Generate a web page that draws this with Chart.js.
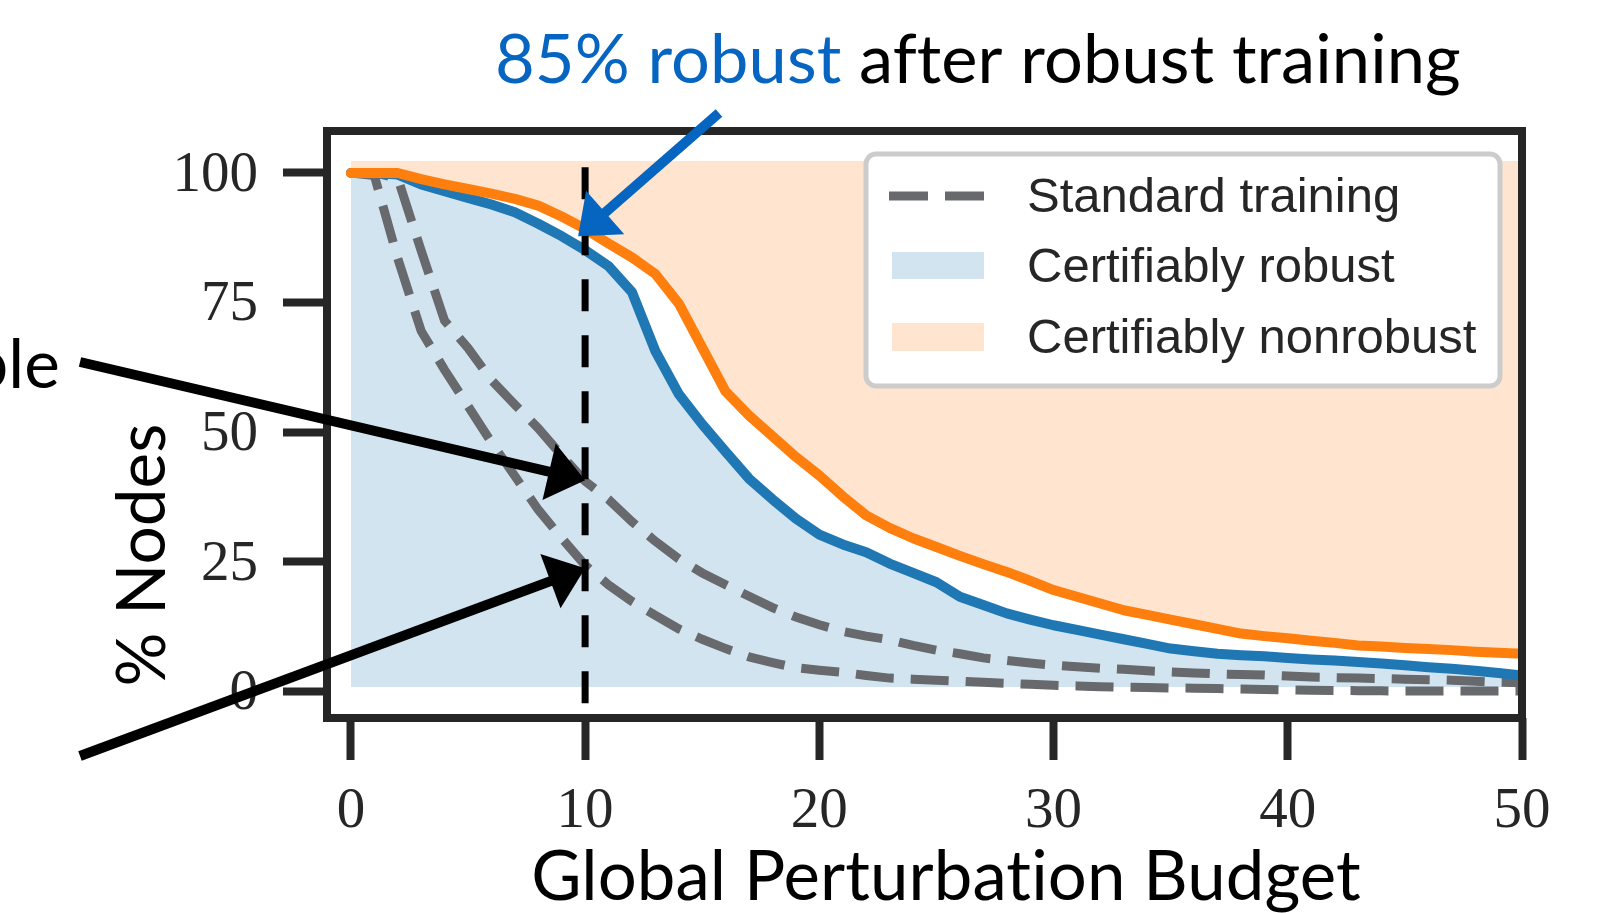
<!DOCTYPE html>
<html>
<head>
<meta charset="utf-8">
<script src="https://cdn.jsdelivr.net/npm/chart.js@4.4.1/dist/chart.umd.min.js"></script>
<style>
  html, body { margin: 0; padding: 0; background: #fff; }
  #wrap { width: 1618px; height: 913px; }
</style>
</head>
<body>
<div id="wrap"><canvas id="chart" width="1618" height="913"></canvas></div>
<script>
// ─── DATA ────────────────────────────────────────────────────────
const budget = [0,1,2,3,4,5,6,7,8,9,10,11,12,13,14,15,16,17,18,19,20,21,22,23,24,25,
                26,27,28,29,30,31,32,33,34,35,36,37,38,39,40,41,42,43,44,45,46,47,48,49,50];

// robust training: % certifiably robust (blue) and 100 - % certifiably nonrobust (orange)
const certRobust = [100,100,99.7,97.8,96.5,95.2,93.9,92.4,90.2,87.8,85.1,82.0,77.0,65.6,57.3,51.5,46.2,41.0,37.0,33.3,
                    30.2,28.3,26.8,24.6,22.8,21.0,18.2,16.6,15.0,13.8,12.7,11.8,10.9,10.0,9.1,8.2,7.7,7.2,6.9,6.7,
                    6.4,6.1,5.9,5.6,5.3,5.0,4.6,4.3,3.9,3.5,3.0];
const notCertNonrobust = [100,100,100,98.8,97.8,96.9,96.0,95.0,93.7,91.6,89.2,86.4,83.7,80.5,74.8,66.3,57.8,53.2,49.2,45.2,
                          41.6,37.6,33.9,31.5,29.5,27.8,26.1,24.5,23.0,21.3,19.5,18.2,16.9,15.6,14.7,13.8,12.9,12.0,11.1,10.6,
                          10.2,9.7,9.3,8.8,8.6,8.3,8.1,7.9,7.6,7.4,7.2];

// standard training (dashed)
const stdNotNonrobust = [100,100,99,85,71.5,66.2,60,55.3,50.7,45.5,40.5,37.0,32.7,28.9,25.5,22.8,20.5,18.3,16.1,14.3,
                         12.8,11.5,10.6,9.9,8.8,7.9,7.2,6.4,5.9,5.4,5.0,4.7,4.4,4.2,3.9,3.7,3.5,3.3,3.2,3.1,
                         2.9,2.7,2.6,2.5,2.4,2.3,2.2,2.1,1.9,1.7,1.6];
const stdRobust = [100,99.5,83.5,69.5,62,55,48,41.5,35,29.5,24.3,20.5,17.3,14.6,12.0,10.0,8.2,6.6,5.5,4.5,
                   4.0,3.6,3.0,2.5,2.3,2.1,1.9,1.7,1.5,1.3,1.1,1.0,0.85,0.75,0.68,0.6,0.55,0.48,0.4,0.3,
                   0.22,0.16,0.12,0.08,0.04,0,0,0,0,0,0];

const markedBudget = [10, 10];
const markedSpan   = [101.1, -2.4];

const xTicks = [0, 10, 20, 30, 40, 50];
const yTicks = [0, 25, 50, 75, 100];
const legendLabels = ['Standard training', 'Certifiably robust', 'Certifiably nonrobust'];

// arrow tips in data units [budget, %]
const tipRobust  = [9.7, 87.8];
const tipStdHigh = [10.0, 40.7];
const tipStdLow  = [10.0, 23.7];

// ─── STYLE ───────────────────────────────────────────────────────
const INK    = '#262626';
const BLUE   = '#1f77b4';
const ORANGE = '#ff7f0e';
const GREY   = '#67696c';
const NOTE_BLUE = '#0565c0';
const SANS   = '"Lato", "Open Sans", sans-serif';

const pts = ys => budget.map((x, i) => ({ x, y: ys[i] }));

function fitSize(ctx, text, family, width) {
  ctx.font = '100px ' + family;
  return 100 * width / ctx.measureText(text).width;
}

function arrow(ctx, x1, y1, x2, y2, color, w, hl, hw) {
  const dx = x2 - x1, dy = y2 - y1, len = Math.hypot(dx, dy);
  const ux = dx / len, uy = dy / len;
  const bx = x2 - ux * hl, by = y2 - uy * hl;
  ctx.save();
  ctx.strokeStyle = color; ctx.fillStyle = color; ctx.lineWidth = w; ctx.lineCap = 'butt';
  ctx.beginPath(); ctx.moveTo(x1, y1); ctx.lineTo(bx + ux * 3, by + uy * 3); ctx.stroke();
  ctx.beginPath();
  ctx.moveTo(x2, y2);
  ctx.lineTo(bx - uy * hw, by + ux * hw);
  ctx.lineTo(bx + uy * hw, by - ux * hw);
  ctx.closePath(); ctx.fill();
  ctx.restore();
}

// ─── FRAME + LEGEND (inside plot) ────────────────────────────────
const frameLegend = {
  id: 'frameLegend',
  afterDatasetsDraw(chart) {
    const { ctx, chartArea: a } = chart;
    ctx.save();
    ctx.strokeStyle = INK; ctx.lineWidth = 8; ctx.setLineDash([]);
    ctx.strokeRect(a.left, a.top, a.right - a.left, a.bottom - a.top);

    // legend box
    const bx = 866, by = 154, bw = 634, bh = 232;
    ctx.beginPath();
    ctx.roundRect(bx, by, bw, bh, 10);
    ctx.fillStyle = '#fff'; ctx.fill();
    ctx.strokeStyle = '#cccccc'; ctx.lineWidth = 5; ctx.stroke();

    const rows = [196, 266, 337];
    // dashed handle
    ctx.strokeStyle = GREY; ctx.lineWidth = 9; ctx.setLineDash([39, 17]);
    ctx.beginPath(); ctx.moveTo(889, rows[0]); ctx.lineTo(984, rows[0]); ctx.stroke();
    ctx.setLineDash([]);
    ctx.fillStyle = 'rgba(31,119,180,0.2)';  ctx.fillRect(892, rows[1] - 14, 92, 27);
    ctx.fillStyle = 'rgba(255,127,14,0.2)';  ctx.fillRect(892, rows[2] - 14, 92, 28);

    ctx.fillStyle = INK;
    ctx.font = '49px "Liberation Sans", Arial, sans-serif';
    ctx.textBaseline = 'alphabetic'; ctx.textAlign = 'left';
    legendLabels.forEach((t, i) => ctx.fillText(t, 1027, rows[i] + 16));
    ctx.restore();
  }
};

// ─── ANNOTATIONS ─────────────────────────────────────────────────
const notes = {
  id: 'notes',
  afterDraw(chart) {
    const { ctx } = chart;
    const sx = chart.scales.x, sy = chart.scales.y;
    const px = p => [sx.getPixelForValue(p[0]), sy.getPixelForValue(p[1])];
    ctx.save();
    // keep Lato from forming the "ti" ligature
    ctx.textRendering = 'optimizeSpeed';
    ctx.letterSpacing = '0.1px';

    // title
    const head = '85% robust', tail = ' after robust training';
    const ts = fitSize(ctx, head + tail, SANS, 965);
    ctx.font = ts + 'px ' + SANS;
    ctx.textBaseline = 'alphabetic'; ctx.textAlign = 'left';
    ctx.fillStyle = NOTE_BLUE; ctx.fillText(head, 495, 83);
    const hw = ctx.measureText(head).width;
    ctx.fillStyle = '#000'; ctx.fillText(tail, 495 + hw, 83);

    // x label
    const xl = 'Global Perturbation Budget';
    ctx.font = fitSize(ctx, xl, SANS, 829) + 'px ' + SANS;
    ctx.textAlign = 'center';
    ctx.fillText(xl, 946, 900);

    // y label
    const yl = '% Nodes';
    const ys = fitSize(ctx, yl, SANS, 263);
    ctx.save();
    ctx.translate(165, 555); ctx.rotate(-Math.PI / 2);
    ctx.font = ys + 'px ' + SANS;
    ctx.fillText(yl, 0, 0);
    ctx.restore();

    // clipped word at left edge
    ctx.font = ys + 'px ' + SANS;
    ctx.textAlign = 'right';
    ctx.fillText('ple', 60, 388);

    // arrows
    const t1 = px(tipStdHigh), t2 = px(tipStdLow), t3 = px(tipRobust);
    arrow(ctx, 80, 362, t1[0], t1[1], '#000', 10, 37, 29);
    arrow(ctx, 80, 756, t2[0], t2[1], '#000', 10, 37, 29);
    arrow(ctx, 719, 113, t3[0], t3[1], NOTE_BLUE, 10, 36, 29);
    ctx.restore();
  }
};

// ─── CHART ───────────────────────────────────────────────────────
const tickFont = { family: '"Liberation Serif", "DejaVu Serif", serif', size: 57 };

new Chart(document.getElementById('chart'), {
  type: 'line',
  data: {
    datasets: [
      { label: 'std-upper', data: pts(stdNotNonrobust), borderColor: GREY, borderWidth: 9,
        borderDash: [38, 17], borderCapStyle: 'butt', fill: false, order: 5 },
      { label: 'std-lower', data: pts(stdRobust), borderColor: GREY, borderWidth: 9,
        borderDash: [38, 17], borderCapStyle: 'butt', fill: false, order: 5 },
      { label: 'robust', data: pts(certRobust), borderColor: BLUE, borderWidth: 10,
        borderCapStyle: 'round', borderJoinStyle: 'round',
        backgroundColor: 'rgba(31,119,180,0.2)', fill: { value: 0.8 }, order: 3 },
      { label: 'nonrobust', data: pts(notCertNonrobust), borderColor: ORANGE, borderWidth: 10,
        borderCapStyle: 'round', borderJoinStyle: 'round',
        backgroundColor: 'rgba(255,127,14,0.2)', fill: { value: 102.3 }, order: 2 },
      { label: 'marker', data: markedBudget.map((x, i) => ({ x, y: markedSpan[i] })),
        borderColor: '#000', borderWidth: 7, borderDash: [32, 24], borderCapStyle: 'butt',
        fill: false, order: 1 }
    ]
  },
  options: {
    responsive: false,
    devicePixelRatio: 1,
    animation: false,
    layout: { padding: { left: 0, right: 96, top: 131, bottom: 0 } },
    elements: { point: { radius: 0 }, line: { tension: 0 } },
    plugins: {
      legend: { display: false },
      tooltip: { enabled: false },
      filler: { drawTime: 'beforeDatasetsDraw', propagate: false }
    },
    scales: {
      x: {
        type: 'linear', min: -1.02, max: 50,
        afterBuildTicks: s => { s.ticks = xTicks.map(v => ({ value: v })); },
        afterFit: s => { s.height = 195; },
        border: { display: false },
        grid: { drawOnChartArea: false, drawTicks: true, tickLength: 42, tickWidth: 8, tickColor: INK },
        ticks: { font: tickFont, color: INK, padding: 18, autoSkip: false, maxRotation: 0, callback: v => String(v) }
      },
      y: {
        type: 'linear', min: -5.2, max: 108.1,
        afterBuildTicks: s => { s.ticks = yTicks.map(v => ({ value: v })); },
        afterFit: s => { s.width = 327; },
        border: { display: false },
        grid: { drawOnChartArea: false, drawTicks: true, tickLength: 44, tickWidth: 8, tickColor: INK },
        ticks: { font: tickFont, color: INK, padding: 25, labelOffset: 3, autoSkip: false, callback: v => String(v) }
      }
    }
  },
  plugins: [frameLegend, notes]
});
</script>
</body>
</html>
